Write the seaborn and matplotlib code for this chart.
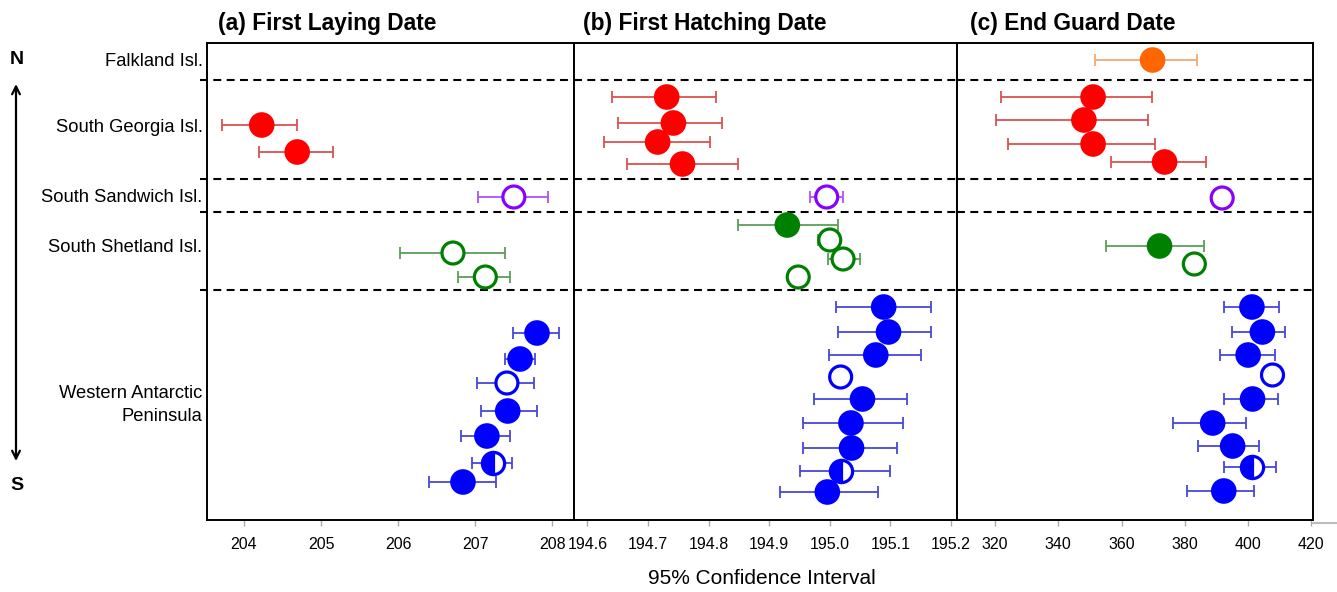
"""Penguin breeding phenology: 95% CIs by region, three panels."""

import matplotlib.pyplot as plt
import numpy as np
import pandas as pd
import seaborn as sns
from matplotlib.lines import Line2D

nan = np.nan

# region keys, label text, label row, colours
REGION_KEYS = ["FI", "SG", "SSI", "SSH", "WAP"]
REGION_LABELS = [
    "Falkland Isl.",
    "South Georgia Isl.",
    "South Sandwich Isl.",
    "South Shetland Isl.",
    "Western Antarctic\nPeninsula",
]
REGION_LABEL_ROW = [1.8, 8.4, 15.4, 20.5, 36.2]
REGION_BOUNDARIES = [3.7, 13.6, 16.9, 24.7]

POINT_COLORS = {"FI": "#ff6600", "SG": "#ff0000", "SSI": "#8a00ff",
                "SSH": "#008000", "WAP": "#0000ff"}
CI_COLORS = {"FI": "#f2aa70", "SG": "#d9534f", "SSI": "#a855f7",
             "SSH": "#5a9e5a", "WAP": "#4848d8"}

# (a) First laying date
lay_region = ["SG", "SG", "SSI", "SSH", "SSH"] + ["WAP"] * 7
lay_est = [204.23, 204.69, 207.50, 206.71, 207.13,
           207.80, 207.58, 207.41, 207.42, 207.15, 207.23, 206.84]
lay_lo = [203.72, 204.19, 207.03, 206.02, 206.78,
          207.49, 207.38, 207.02, 207.08, 206.82, 206.96, 206.40]
lay_hi = [204.69, 205.15, 207.94, 207.38, 207.45,
          208.08, 207.78, 207.76, 207.80, 207.45, 207.48, 207.27]
lay_row = [8.2, 10.9, 15.4, 21.0, 23.4, 29.0, 31.6, 34.0, 36.8, 39.3, 42.0, 43.9]
lay_fill = ["full", "full", "open", "open", "open",
            "full", "full", "open", "full", "full", "half", "full"]

# (b) First hatching date
hatch_region = ["SG"] * 4 + ["SSI"] + ["SSH"] * 4 + ["WAP"] * 9
hatch_est = [194.731, 194.742, 194.716, 194.757, 194.995,
             194.930, 195.000, 195.022, 194.948,
             195.089, 195.097, 195.076, 195.018, 195.054, 195.035, 195.036, 195.019, 194.996]
hatch_lo = [194.640, 194.650, 194.628, 194.666, 194.967,
            194.849, 194.981, 194.997, nan,
            195.011, 195.014, 194.999, nan, 194.974, 194.956, 194.956, 194.951, 194.918]
hatch_hi = [194.813, 194.822, 194.803, 194.849, 195.022,
            195.014, 195.015, 195.050, nan,
            195.167, 195.167, 195.151, nan, 195.128, 195.121, 195.111, 195.099, 195.080]
hatch_row = [5.4, 8.0, 9.9, 12.1, 15.4, 18.2, 19.7, 21.6, 23.4,
             26.4, 28.9, 31.2, 33.4, 35.6, 38.0, 40.5, 42.8, 44.9]
hatch_fill = ["full"] * 4 + ["open", "full", "open", "open", "open",
                             "full", "full", "full", "open", "full", "full", "full", "half", "full"]

# (c) End guard date
guard_region = ["FI"] + ["SG"] * 4 + ["SSI"] + ["SSH"] * 2 + ["WAP"] * 9
guard_est = [369.8, 351.0, 348.1, 351.0, 373.6, 391.8, 372.0, 383.0,
             401.2, 404.5, 400.0, 407.7, 401.4, 388.8, 395.1, 401.2, 392.3]
guard_lo = [351.5, 321.9, 320.3, 324.1, 356.6, nan, 355.2, nan,
            392.3, 395.0, 391.2, nan, 392.5, 376.4, 384.1, 392.5, 380.8]
guard_hi = [383.7, 369.5, 368.5, 370.5, 386.6, nan, 385.9, nan,
            409.8, 411.5, 408.5, nan, 409.5, 399.4, 403.5, 408.9, 401.7]
guard_row = [1.7, 5.4, 7.7, 10.1, 11.9, 15.5, 20.3, 22.1,
             26.4, 28.9, 31.2, 33.2, 35.6, 38.0, 40.3, 42.4, 44.8]
guard_fill = ["full"] * 5 + ["open", "full", "open",
                             "full", "full", "full", "open", "full", "full", "full", "half", "full"]

PANEL_TITLES = ["(a) First Laying Date", "(b) First Hatching Date", "(c) End Guard Date"]
PANEL_TICKS = [
    [204, 205, 206, 207, 208],
    [194.6, 194.7, 194.8, 194.9, 195.0, 195.1, 195.2],
    [320, 340, 360, 380, 400, 420],
]
PANEL_TICKLABELS = [
    ["204", "205", "206", "207", "208"],
    ["194.6", "194.7", "194.8", "194.9", "195.0", "195.1", "195.2"],
    ["320", "340", "360", "380", "400", "420"],
]


def make_frame(region, est, lo, hi, row, fill):
    return pd.DataFrame({"region": region, "est": est, "lo": lo, "hi": hi,
                         "row": row, "fill": fill})


def draw_panel(ax, df):
    with_ci = df.dropna(subset=["lo", "hi"])
    for key, grp in with_ci.groupby("region"):
        ax.errorbar(grp["est"], grp["row"],
                    xerr=[grp["est"] - grp["lo"], grp["hi"] - grp["est"]],
                    fmt="none", ecolor=CI_COLORS[key], elinewidth=1.3,
                    capsize=4.5, capthick=1.3, zorder=2)

    full = df[df["fill"] == "full"]
    sns.scatterplot(data=full, x="est", y="row", hue="region", palette=POINT_COLORS,
                    s=340, linewidth=0, legend=False, ax=ax, zorder=3)

    hollow = df[df["fill"] == "open"]
    ax.scatter(hollow["est"], hollow["row"], s=250, facecolors="white",
               edgecolors=[POINT_COLORS[k] for k in hollow["region"]],
               linewidths=2.3, zorder=3)

    for _, r in df[df["fill"] == "half"].iterrows():
        ax.plot(r["est"], r["row"], marker="o", markersize=16, fillstyle="left",
                markerfacecolor=POINT_COLORS[r["region"]], markerfacecoloralt="white",
                markeredgecolor=POINT_COLORS[r["region"]], markeredgewidth=2.3,
                linestyle="none", zorder=3)


sns.set_theme(style="white")
plt.rcParams["font.family"] = ["Liberation Sans", "DejaVu Sans"]
plt.rcParams["text.color"] = "black"
plt.rcParams["axes.labelcolor"] = "black"

fig = plt.figure(figsize=(13.37, 5.92), dpi=100)
W, H = 1337, 592
panel_px = [(207, 574), (574, 957), (957, 1313)]
top_px, bottom_px = 43, 520
xlims = [(203.52, 208.28), (194.578, 195.21), (308, 420.5)]
title_px = [218, 583, 970]

frames = [
    make_frame(lay_region, lay_est, lay_lo, lay_hi, lay_row, lay_fill),
    make_frame(hatch_region, hatch_est, hatch_lo, hatch_hi, hatch_row, hatch_fill),
    make_frame(guard_region, guard_est, guard_lo, guard_hi, guard_row, guard_fill),
]

axes = []
for i, (x0, x1) in enumerate(panel_px):
    ax = fig.add_axes([x0 / W, 1 - bottom_px / H, (x1 - x0) / W, (bottom_px - top_px) / H])
    axes.append(ax)
    for b in REGION_BOUNDARIES:
        ax.axhline(b, xmin=-0.02 if i == 0 else 0, xmax=1, color="black", lw=1.5,
                   ls=(0, (3.8, 2.6)), zorder=1, clip_on=False)
    draw_panel(ax, frames[i])
    ax.set_xlim(*xlims[i])
    ax.set_ylim(47.7, 0)
    ax.set_xticks(PANEL_TICKS[i])
    ax.set_xticklabels(PANEL_TICKLABELS[i])
    ax.set_yticks([])
    ax.set_xlabel("")
    ax.set_ylabel("")
    ax.tick_params(axis="x", bottom=True, length=4, width=1, color="#aaaaaa",
                   labelcolor="black", pad=8, labelsize=11.5)
    for sp in ax.spines.values():
        sp.set_color("black")
        sp.set_linewidth(1.4)
    fig.text(title_px[i] / W, 1 - 30 / H, PANEL_TITLES[i], fontsize=16.4,
             fontweight="bold", ha="left", va="baseline")

# region labels left of the first panel
for label, row in zip(REGION_LABELS, REGION_LABEL_ROW):
    axes[0].text(-0.012, row, label, transform=axes[0].get_yaxis_transform(),
                 ha="right", va="center", multialignment="right", fontsize=13.2,
                 linespacing=1.45)

# north-south arrow
fig.text(17 / W, 1 - 59 / H, "N", fontsize=14, fontweight="bold", ha="center", va="center")
fig.text(17 / W, 1 - 486 / H, "S", fontsize=14, fontweight="bold", ha="center", va="center")
fig.add_artist(plt.Annotation("", xy=(16 / W, 1 - 84 / H), xytext=(16 / W, 1 - 461 / H),
                              xycoords="figure fraction", textcoords="figure fraction",
                              arrowprops=dict(arrowstyle="<->", lw=1.6, color="black",
                                              mutation_scale=14, shrinkA=0, shrinkB=0)))

# shadow line at bottom right
fig.add_artist(Line2D([1313 / W, 1.0], [1 - 523 / H, 1 - 523 / H],
                      color="#bbbbbb", lw=1.5))

fig.text(762 / W, 1 - 578 / H, "95% Confidence Interval", fontsize=15,
         ha="center", va="center")

fig.savefig("out.png", dpi=100)
plt.close(fig)
